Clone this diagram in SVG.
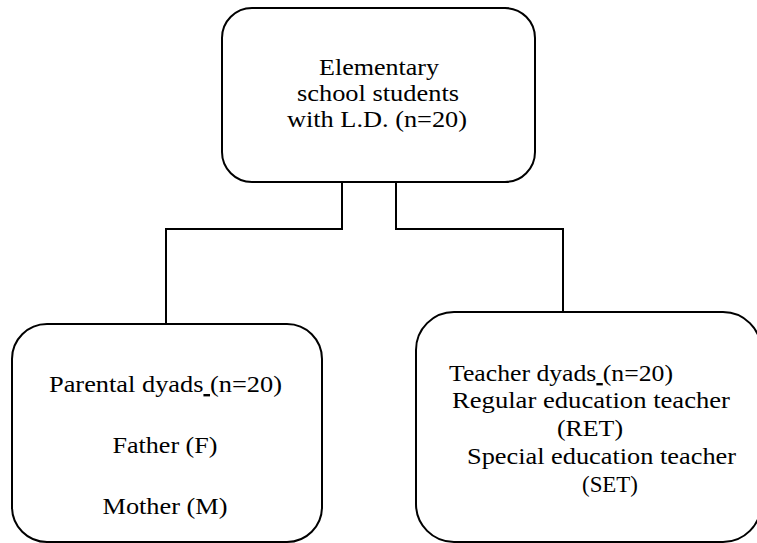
<svg xmlns="http://www.w3.org/2000/svg" width="757" height="543" viewBox="0 0 757 543">
<style>
.box{fill:#fff;stroke:#000;stroke-width:2}
.con{fill:none;stroke:#000;stroke-width:2}
.t{font-family:'Liberation Serif','Times New Roman',Times,serif;font-size:24px;fill:#000}
.m{text-anchor:middle}
.u{text-decoration:underline}
</style>
<rect width="757" height="543" fill="#fff"/>
<g id="connectors">
<polyline class="con" points="342,182 342,229 166,229 166,324"/>
<polyline class="con" points="396,182 396,229 563,229 563,312"/>
</g>
<g id="students" class="t">
<rect class="box" x="222" y="8" width="313" height="174" rx="30"/>
<text class="m" x="379" y="75" textLength="120" lengthAdjust="spacingAndGlyphs">Elementary</text>
<text class="m" x="378" y="101" textLength="162" lengthAdjust="spacingAndGlyphs">school students</text>
<text class="m" x="377" y="127" textLength="180" lengthAdjust="spacingAndGlyphs">with L.D. (n=20)</text>
</g>
<g id="parents" class="t">
<rect class="box" x="12" y="324" width="310" height="218" rx="35"/>
<text x="49" y="392" xml:space="preserve" textLength="233" lengthAdjust="spacingAndGlyphs">Parental dyads<tspan class="u"> </tspan>(n=20)</text>
<text class="m" x="165" y="453" textLength="105" lengthAdjust="spacingAndGlyphs">Father (F)</text>
<text class="m" x="165" y="514" textLength="125" lengthAdjust="spacingAndGlyphs">Mother (M)</text>
</g>
<g id="teachers" class="t">
<rect class="box" x="416" y="312" width="345" height="230" rx="38"/>
<text x="449" y="381" xml:space="preserve" textLength="224" lengthAdjust="spacingAndGlyphs">Teacher dyads<tspan class="u"> </tspan>(n=20)</text>
<text x="452" y="408" textLength="278" lengthAdjust="spacingAndGlyphs">Regular education teacher</text>
<text class="m" x="590" y="436" textLength="66" lengthAdjust="spacingAndGlyphs">(RET)</text>
<text x="467" y="464" textLength="269" lengthAdjust="spacingAndGlyphs">Special education teacher</text>
<text class="m" x="610" y="492" textLength="56" lengthAdjust="spacingAndGlyphs">(SET)</text>
</g>
</svg>
